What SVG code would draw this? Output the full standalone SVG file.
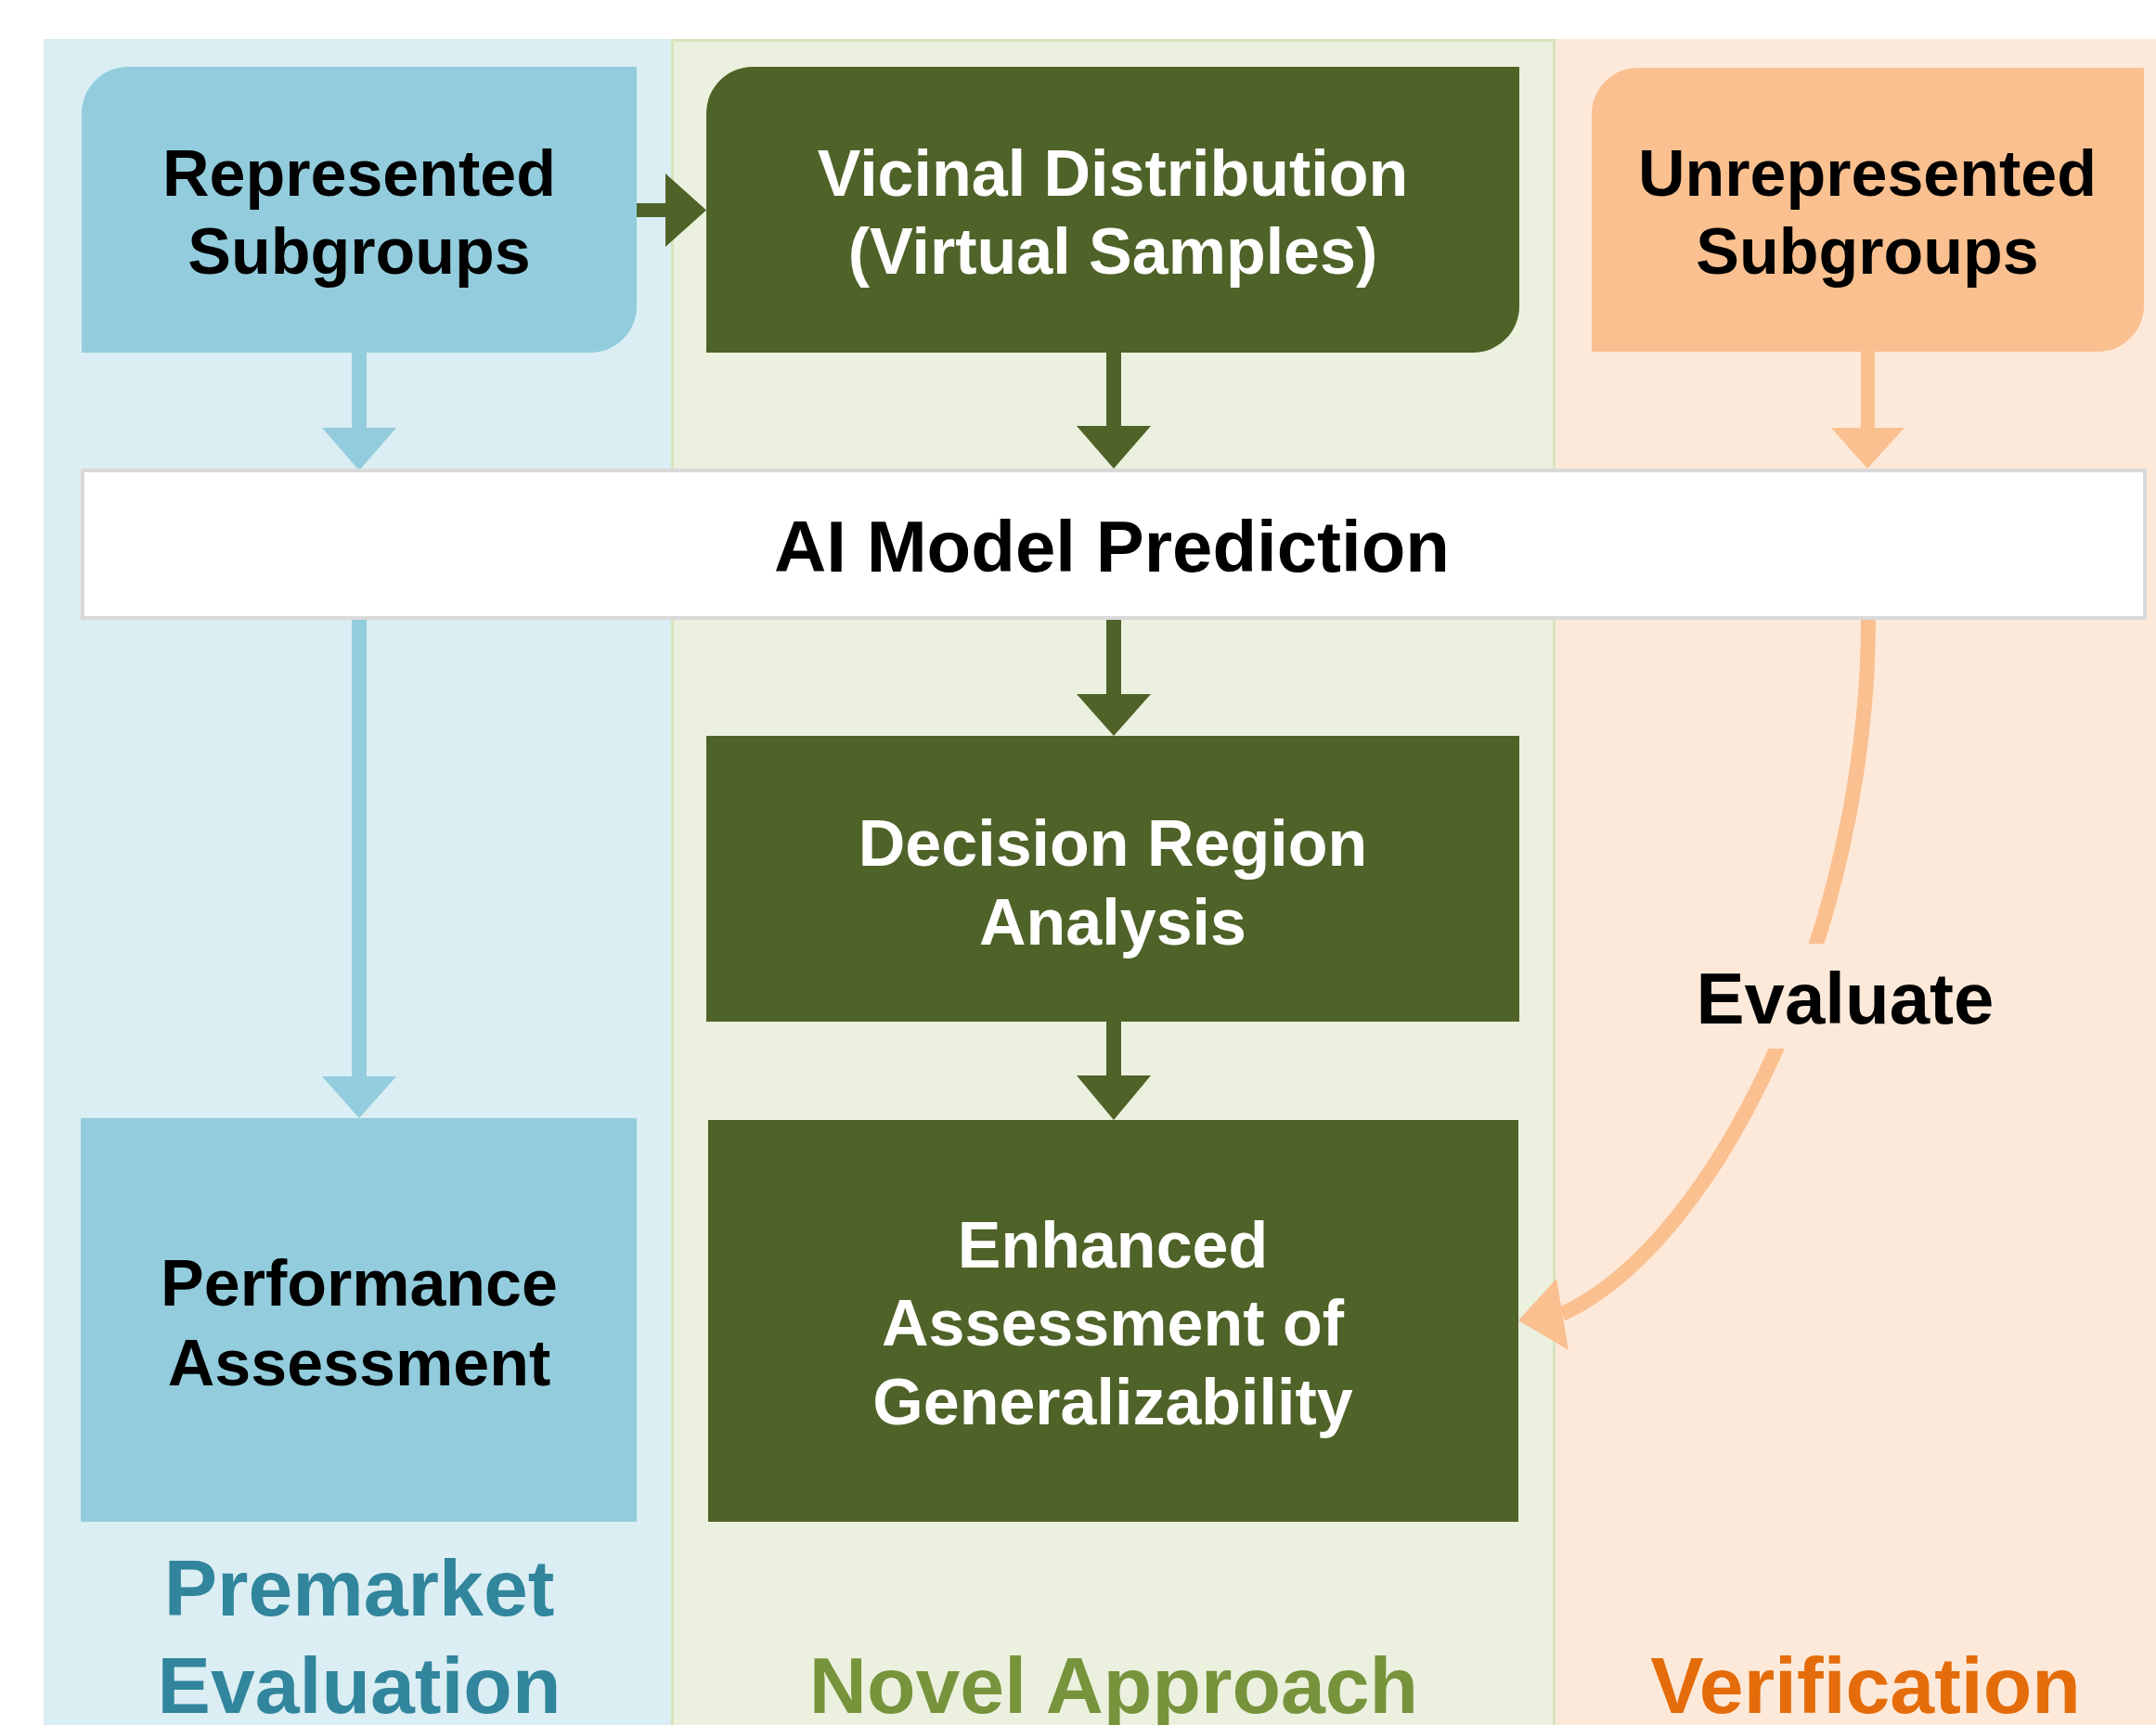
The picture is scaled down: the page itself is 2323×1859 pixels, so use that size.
<svg xmlns="http://www.w3.org/2000/svg" width="2323" height="1859" viewBox="0 0 2323 1859">
  <style>
    text { font-family: "Liberation Sans", Arial, sans-serif; font-weight: bold; text-anchor: middle; }
    .t70 { font-size: 70px; }
    .dark { fill: #000000; }
    .light { fill: #ffffff; }
    .lane-title { font-size: 86px; }
    .blue-box { fill: #93cddd; }
    .green-box { fill: #4f6228; }
    .orange-box { fill: #fac090; }
  </style>
  <defs>
    <mask id="evalGap">
      <rect x="0" y="0" width="2323" height="1859" fill="#fff"/>
      <rect x="1780" y="1017" width="420" height="113" fill="#000"/>
    </mask>
  </defs>

  <rect x="0" y="0" width="2323" height="1859" fill="#ffffff"/>

  <!-- swimlanes -->
  <g id="lanes">
    <rect x="47" y="42" width="676" height="1830" fill="#daeef3"/>
    <rect x="724.5" y="43.5" width="950" height="1830" fill="#ebf1de" stroke="#d7e4bd" stroke-width="3"/>
    <rect x="1676" y="42" width="660" height="1830" fill="#fde9d9"/>
  </g>

  <!-- connectors -->
  <g id="connectors">
    <!-- Represented Subgroups -> Vicinal Distribution -->
    <rect x="686" y="219" width="32" height="15" fill="#4f6228"/>
    <polygon points="717,187 761,226.5 717,266" fill="#4f6228"/>
    <!-- Represented Subgroups -> AI Model Prediction -->
    <rect x="379" y="380" width="16" height="82" fill="#93cddd"/>
    <polygon points="347,461 427,461 387,507" fill="#93cddd"/>
    <!-- Vicinal Distribution -> AI Model Prediction -->
    <rect x="1192" y="380" width="16" height="80" fill="#4f6228"/>
    <polygon points="1160,459 1240,459 1200,505" fill="#4f6228"/>
    <!-- Unrepresented Subgroups -> AI Model Prediction -->
    <rect x="2005" y="378" width="15" height="84" fill="#fac090"/>
    <polygon points="1973,461 2052,461 2012,505" fill="#fac090"/>
    <!-- AI Model Prediction -> Performance Assessment -->
    <rect x="379" y="667" width="16" height="494" fill="#93cddd"/>
    <polygon points="347,1160 427,1160 387,1205" fill="#93cddd"/>
    <!-- AI Model Prediction -> Decision Region Analysis -->
    <rect x="1192" y="667" width="16" height="82" fill="#4f6228"/>
    <polygon points="1160,748 1240,748 1200,793" fill="#4f6228"/>
    <!-- Decision Region Analysis -> Enhanced Assessment -->
    <rect x="1192" y="1101" width="16" height="59" fill="#4f6228"/>
    <polygon points="1160,1159 1240,1159 1200,1207" fill="#4f6228"/>
    <!-- AI Model Prediction -> Enhanced Assessment (Evaluate) -->
    <path d="M2013,668 C2013,1000 1850,1340 1683,1416" fill="none" stroke="#fac090" stroke-width="16" mask="url(#evalGap)"/>
    <polygon points="1636,1423 1677,1378 1690,1455" fill="#fac090"/>
    <text x="1988" y="1103" class="dark" font-size="78">Evaluate</text>
  </g>

  <!-- nodes -->
  <g id="represented">
    <path class="blue-box" d="M138,72 H686 V330 A50,50 0 0 1 636,380 H88 V122 A50,50 0 0 1 138,72 Z"/>
    <text class="t70 dark" x="387" y="211">Represented</text>
    <text class="t70 dark" x="387" y="295">Subgroups</text>
  </g>

  <g id="vicinal">
    <path class="green-box" d="M811,72 H1637 V330 A50,50 0 0 1 1587,380 H761 V122 A50,50 0 0 1 811,72 Z"/>
    <text class="t70 light" x="1199" y="211">Vicinal Distribution</text>
    <text class="t70 light" x="1199" y="295">(Virtual Samples)</text>
  </g>

  <g id="unrepresented">
    <path class="orange-box" d="M1765,73 H2310 V329 A50,50 0 0 1 2260,379 H1715 V123 A50,50 0 0 1 1765,73 Z"/>
    <text class="t70 dark" x="2012" y="211">Unrepresented</text>
    <text class="t70 dark" x="2012" y="295">Subgroups</text>
  </g>

  <g id="ai-model">
    <rect x="89" y="507" width="2222" height="159" fill="#ffffff" stroke="#d9d9d9" stroke-width="4"/>
    <text class="dark" x="1198" y="616" font-size="78">AI Model Prediction</text>
  </g>

  <g id="decision">
    <rect class="green-box" x="761" y="793" width="876" height="308"/>
    <text class="t70 light" x="1199" y="933">Decision Region</text>
    <text class="t70 light" x="1199" y="1018">Analysis</text>
  </g>

  <g id="enhanced">
    <rect class="green-box" x="763" y="1207" width="873" height="433"/>
    <text class="t70 light" x="1199" y="1366">Enhanced</text>
    <text class="t70 light" x="1199" y="1450">Assessment of</text>
    <text class="t70 light" x="1199" y="1535">Generalizability</text>
  </g>

  <g id="performance">
    <rect class="blue-box" x="87" y="1205" width="599" height="435"/>
    <text class="t70 dark" x="387" y="1407">Performance</text>
    <text class="t70 dark" x="387" y="1493">Assessment</text>
  </g>

  <!-- lane titles -->
  <g id="lane-titles">
    <text class="lane-title" x="387" y="1741" fill="#31859c">Premarket</text>
    <text class="lane-title" x="387" y="1846" fill="#31859c">Evaluation</text>
    <text class="lane-title" x="1200" y="1846" fill="#77933c">Novel Approach</text>
    <text class="lane-title" x="2010" y="1846" fill="#e46c0a">Verification</text>
  </g>
</svg>
